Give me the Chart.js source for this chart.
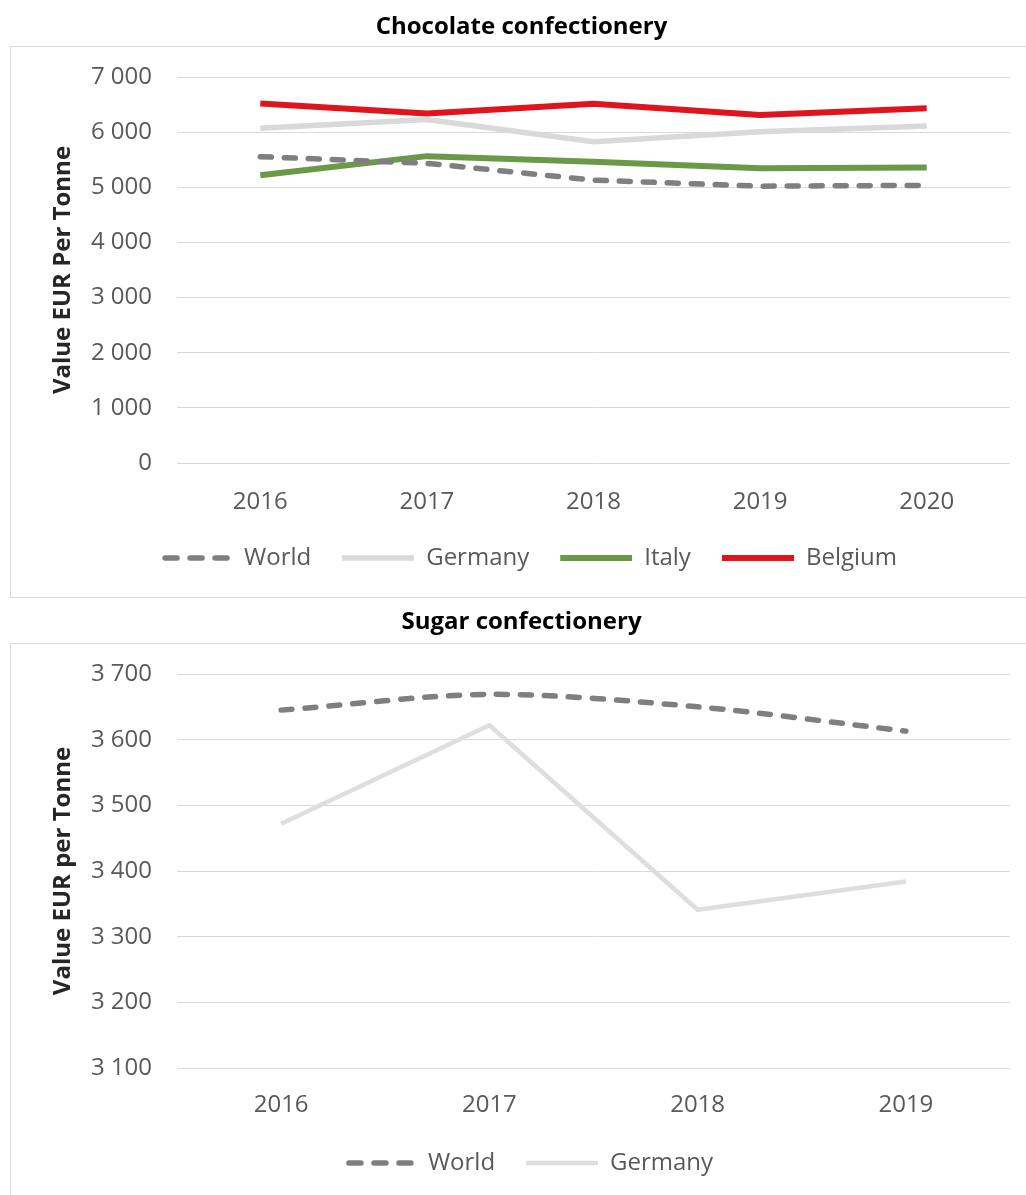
<!DOCTYPE html>
<html>
<head>
<meta charset="utf-8">
<script src="https://cdn.jsdelivr.net/npm/chart.js@4/dist/chart.umd.min.js"></script>
<style>
    body { margin: 0; background: #ffffff; width: 1026px; height: 1195px; overflow: hidden; position: relative; }
    .chart-container { position: absolute; left: 0; width: 1026px; }
</style>
</head>
<body>
<div class="chart-container" style="top: 0px; height: 600px;"><canvas id="chocoChart" width="1026" height="600"></canvas></div>
<div class="chart-container" style="top: 600px; height: 595px;"><canvas id="sugarChart" width="1026" height="595"></canvas></div>
<script>
// datos
const chocoYears = ['2016', '2017', '2018', '2019', '2020'];
const chocoWorld = [5555, 5435, 5130, 5020, 5035];
const chocoGermany = [6070, 6230, 5825, 6005, 6110];
const chocoItaly = [5220, 5565, 5465, 5345, 5360];
const chocoBelgium = [6520, 6340, 6515, 6310, 6435];

const sugarYears = ['2016', '2017', '2018', '2019'];
const sugarWorld = [3645, 3669, 3650, 3613];
const sugarGermany = [3472, 3622, 3341, 3384];

const FONT = "'Open Sans', 'Noto Sans', sans-serif";
const TEXT_GREY = '#595959';
const GRID_GREY = '#d9d9d9';
const ICON_W = 86;   // ancho de la muestra en la leyenda (con 16px vacios a la izquierda)

// miles con espacio: 7 000
const formatThousands = (v) => String(v).replace(/\B(?=(\d{3})+(?!\d))/g, ' ');

// muestra de linea para la leyenda (el pointStyle 'line' no respeta el guion)
function legendIcon(color, width, dashed) {
    const c = document.createElement('canvas');
    c.width = ICON_W;
    c.height = 10;
    const ctx = c.getContext('2d');
    ctx.strokeStyle = color;
    ctx.lineWidth = width;
    ctx.beginPath();
    if (dashed) {
        ctx.lineCap = 'round';
        ctx.setLineDash([12, 13]);
        ctx.moveTo(19, 5);
        ctx.lineTo(ICON_W - 2, 5);
    } else {
        ctx.moveTo(14, 5);
        ctx.lineTo(ICON_W, 5);
    }
    ctx.stroke();
    return c;
}

// marco gris alrededor del area del grafico (como en Excel)
const frameBox = {
    id: 'frameBox',
    beforeDraw(chart, args, opts) {
        const ctx = chart.ctx;
        ctx.save();
        ctx.strokeStyle = GRID_GREY;
        ctx.lineWidth = 1;
        ctx.strokeRect(10.5, opts.top + 0.5, 1200, opts.height);
        ctx.restore();
    }
};

function makeChart(canvasId, cfg) {
    const dataset = (s) => ({
        label: s.label,
        data: s.data,
        borderColor: s.color,
        backgroundColor: s.color,
        borderWidth: s.width,
        borderDash: s.dashed ? [11, 13] : [],
        borderCapStyle: s.dashed ? 'round' : 'butt',
        borderJoinStyle: 'round',
        pointRadius: 0,
        pointHoverRadius: 0,
        pointStyle: legendIcon(s.color, s.width, s.dashed),
        tension: s.tension || 0
    });

    return new Chart(document.getElementById(canvasId).getContext('2d'), {
        type: 'line',
        data: {
            labels: cfg.labels,
            datasets: cfg.series.map(dataset)
        },
        plugins: [frameBox],
        options: {
            responsive: false,
            animation: false,
            devicePixelRatio: 1,
            layout: { padding: { left: 33, right: 16, top: 0, bottom: cfg.padBottom } },
            plugins: {
                frameBox: { top: cfg.frameTop, height: cfg.frameHeight },
                tooltip: { enabled: false },
                title: {
                    display: true,
                    text: cfg.title,
                    color: '#000000',
                    font: { family: FONT, size: 24, weight: 'bold', lineHeight: 1.2 },
                    padding: { top: cfg.titleTop, bottom: cfg.titleBottom }
                },
                legend: {
                    position: 'bottom',
                    labels: {
                        usePointStyle: true,
                        pointStyleWidth: ICON_W,
                        padding: 17,
                        color: TEXT_GREY,
                        font: { family: FONT, size: 24, lineHeight: 1.2 }
                    }
                }
            },
            scales: {
                x: {
                    offset: true,
                    grid: { display: false, drawTicks: false },
                    border: { display: false },
                    ticks: { color: TEXT_GREY, padding: cfg.xPad, font: { family: FONT, size: 24, lineHeight: 1.2 } },
                    afterFit: (scale) => { scale.height = 66; }
                },
                y: {
                    min: cfg.min,
                    max: cfg.max,
                    grid: { color: GRID_GREY, lineWidth: 1, drawTicks: false },
                    border: { display: false },
                    ticks: {
                        stepSize: cfg.step,
                        padding: 25,
                        color: TEXT_GREY,
                        font: { family: FONT, size: 24, lineHeight: 1.2 },
                        callback: (v) => formatThousands(v)
                    },
                    title: {
                        display: true,
                        text: cfg.yTitle,
                        color: '#262626',
                        font: { family: FONT, size: 24, weight: 'bold', lineHeight: 1.2 },
                        padding: { top: 15.6, bottom: 0 }
                    },
                    afterFit: (scale) => { scale.width = 144; }
                }
            }
        }
    });
}

makeChart('chocoChart', {
    title: 'Chocolate confectionery',
    yTitle: 'Value EUR Per Tonne',
    labels: chocoYears,
    min: 0, max: 7000, step: 1000,
    titleTop: 12.6, titleBottom: 35.6,
    xPad: 25,
    padBottom: 20,
    frameTop: 46, frameHeight: 551,
    series: [
        { label: 'World', data: chocoWorld, color: '#7f7f7f', width: 5.5, dashed: true },
        { label: 'Germany', data: chocoGermany, color: '#d9d9d9', width: 5.5 },
        { label: 'Italy', data: chocoItaly, color: '#6a9a48', width: 6 },
        { label: 'Belgium', data: chocoBelgium, color: '#e0141c', width: 6 }
    ]
});

makeChart('sugarChart', {
    title: 'Sugar confectionery',
    yTitle: 'Value EUR per Tonne',
    labels: sugarYears,
    min: 3100, max: 3700, step: 100,
    titleTop: 7.6, titleBottom: 37.6,
    xPad: 23,
    padBottom: 10,
    frameTop: 43, frameHeight: 1000,
    series: [
        { label: 'World', data: sugarWorld, color: '#7f7f7f', width: 5.5, dashed: true, tension: 0.3 },
        { label: 'Germany', data: sugarGermany, color: '#dedede', width: 4.5 }
    ]
});
</script>
</body>
</html>
